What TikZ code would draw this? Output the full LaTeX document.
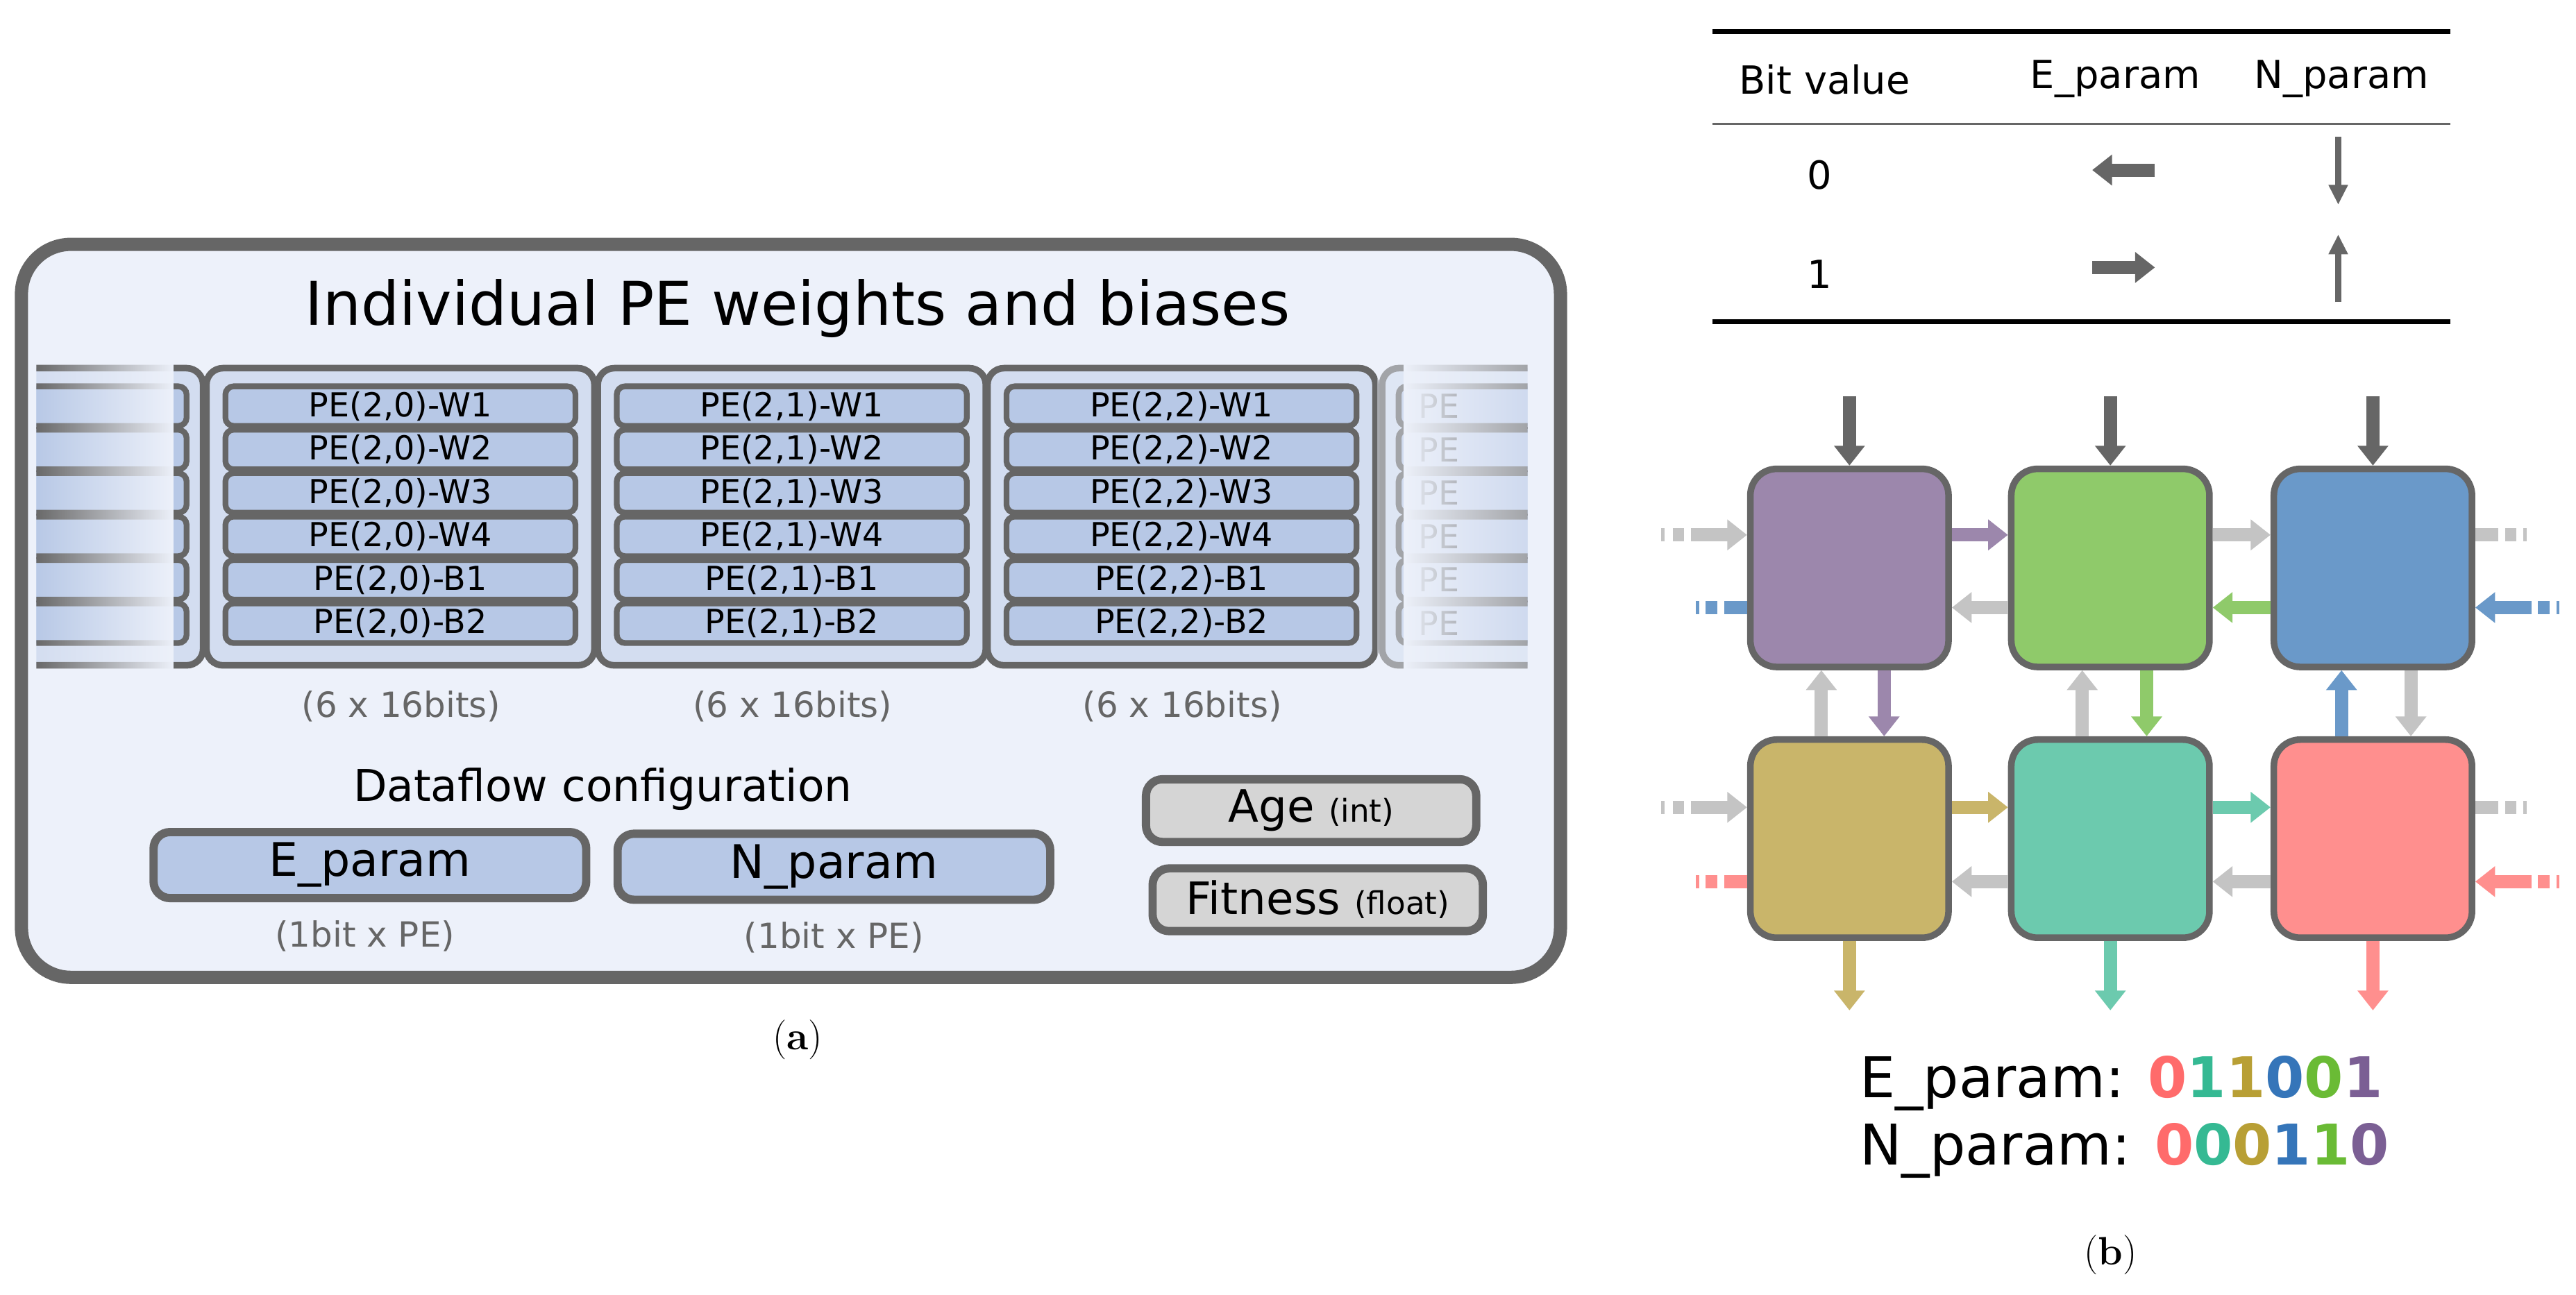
\documentclass[tikz,border=0pt]{standalone}
\usepackage{fontspec}
\newfontfamily\dv{DejaVu Sans}
\usetikzlibrary{arrows.meta,fadings,calc}
\newcommand\fsz[1]{\fontsize{#1}{#1}\selectfont}
\definecolor{dk}{HTML}{666666}
\definecolor{pbg}{HTML}{EDF1FA}
\definecolor{grp}{HTML}{D3DDF0}
\definecolor{rowc}{HTML}{B7C8E6}
\definecolor{lg}{HTML}{D5D5D5}
\definecolor{ag}{HTML}{C4C4C4}
\definecolor{cpu}{HTML}{9C87AC}
\definecolor{cgr}{HTML}{8FCA6A}
\definecolor{cbl}{HTML}{6A99C9}
\definecolor{col}{HTML}{C9B56A}
\definecolor{cte}{HTML}{6CCAAE}
\definecolor{cre}{HTML}{FF8F8E}
\definecolor{dre}{HTML}{FF6B6B}
\definecolor{dte}{HTML}{35B993}
\definecolor{dol}{HTML}{B89F35}
\definecolor{dbl}{HTML}{3575B9}
\definecolor{dgr}{HTML}{6ABB35}
\definecolor{dpu}{HTML}{7B5F94}
\tikzset{
  grpbox/.style={draw=dk,line width=4pt,fill=grp,rounded corners=10pt},
  row/.style={draw=dk,line width=3.5pt,fill=rowc,rounded corners=5pt,minimum width=212pt,minimum height=24pt,inner sep=0pt,font=\dv\fsz{20}},
  param/.style={draw=dk,line width=5pt,fill=rowc,rounded corners=10pt,minimum width=262pt,minimum height=40pt,inner sep=0pt,font=\dv\fsz{28}},
  gbox/.style={draw=dk,line width=5pt,fill=lg,rounded corners=10pt,minimum width=200pt,minimum height=38pt,inner sep=0pt,font=\dv\fsz{27}},
  note/.style={text=dk,font=\dv\fsz{21}},
  pe/.style={draw=dk,line width=4pt,rounded corners=16pt,minimum width=120pt,minimum height=120pt,inner sep=0pt},
  ar/.style={line width=8pt,-{Triangle[width=18pt,length=12pt]}},
  st/.style={line width=8pt},
}
\begin{document}
\begin{tikzpicture}[x=1pt,y=-1pt]
\useasboundingbox[fill=white] (0,0) rectangle (1560,784);
% ---------- panel (a)
\draw[dk,line width=8pt,fill=pbg,rounded corners=30pt] (13,148) rectangle (945,592);
\node[font=\dv\fsz{36.5}] (title) at (483,187) {Individual PE weights and biases};
% partial left
\begin{scope}
\clip (22,215) rectangle (124,412);
\draw[grpbox] (-20,223) rectangle (123,403);
\foreach \i in {0,...,5}{
  \draw[draw=dk,line width=3.5pt,fill=rowc,rounded corners=5pt] (-20,{234+26.3*\i}) rectangle (113,{258+26.3*\i});
}
\fill[pbg,path fading=west] (20,212) rectangle (105,414);
\end{scope}
% full columns
\foreach \c/\L in {0/125,1/362,2/598}{
  \draw[grpbox] (\L,223) rectangle (\L+235,403);
  \foreach \i/\lab in {0/W1,1/W2,2/W3,3/W4,4/B1,5/B2}{
    \node[row] (r\c\i) at (\L+117.5,{246+26.3*\i}) {PE(2,\c)-\lab};
  }
  \node[note] (bits\c) at (\L+118,428) {(6 x 16bits)};
}
% partial right
\begin{scope}
\clip (834,212) rectangle (925,414);
\draw[grpbox] (837,223) rectangle (1000,403);
\foreach \i in {0,...,5}{
  \draw[draw=dk,line width=3.5pt,fill=rowc,rounded corners=5pt] (847,{234+26.3*\i}) rectangle (1000,{258+26.3*\i});
  \node[font=\dv\fsz{20},anchor=west,inner sep=0pt] at (859,{246+26.3*\i}) {PE};
}
\fill[pbg,opacity=0.45] (834,212) rectangle (925,414);
\fill[pbg,path fading=east] (850,212) rectangle (925,414);
\end{scope}
\node[font=\dv\fsz{26.5}] (dfc) at (365,478) {Dataflow configuration};
\node[param] (ep) at (224,524) {E\_param};
\node[param] (np) at (505,525) {N\_param};
\node[note] (b1) at (221,567) {(1bit x PE)};
\node[note] (b2) at (505,568) {(1bit x PE)};
\node[gbox] (age) at (794,491) {Age {\fsz{19}(int)}};
\node[gbox] (fit) at (798,545) {Fitness {\fsz{19}(float)}};
\node[font=\fsz{24}] (capa) at (483,630) {(\textbf{a})};
% ---------- panel (b) table
\draw[line width=3pt] (1037,19) -- (1484,19);
\draw[dk,line width=1.2pt] (1037,75) -- (1484,75);
\draw[line width=3pt] (1037,195) -- (1484,195);
\node[font=\dv\fsz{23.5}] (h1) at (1105,48) {Bit value};
\node[font=\dv\fsz{23.5}] (h2) at (1281,48) {E\_param};
\node[font=\dv\fsz{23.5}] (h3) at (1418,48) {N\_param};
\node[font=\dv\fsz{23.5}] (v0) at (1102,106) {0};
\node[font=\dv\fsz{23.5}] (v1) at (1102,166) {1};
\coordinate (e0a) at (1305,103); \coordinate (e0b) at (1267,103);
\coordinate (e1a) at (1267,162); \coordinate (e1b) at (1305,162);
\coordinate (n0a) at (1416,83); \coordinate (n0b) at (1416,124);
\coordinate (n1a) at (1416,183); \coordinate (n1b) at (1416,142);
\draw[dk,ar] (e0a) -- (e0b);
\draw[dk,ar] (e1a) -- (e1b);
\draw[dk,line width=4pt,-{Triangle[width=11pt,length=12pt]}] (n0a) -- (n0b);
\draw[dk,line width=4pt,-{Triangle[width=11pt,length=12pt]}] (n1a) -- (n1b);
% ---------- grid
\node[pe,fill=cpu] (a1) at (1120,344) {};
\node[pe,fill=cgr] (a2) at (1278,344) {};
\node[pe,fill=cbl] (a3) at (1437,344) {};
\node[pe,fill=col] (c1) at (1120,508) {};
\node[pe,fill=cte] (c2) at (1278,508) {};
\node[pe,fill=cre] (c3) at (1437,508) {};
% top inputs
\foreach \n in {a1,a2,a3}{
  \draw[dk,ar] ([yshift=42pt]\n.north) -- (\n.north);
}
% bottom outputs
\draw[col,ar] (c1.south) -- ([yshift=-42pt]c1.south);
\draw[cte,ar] (c2.south) -- ([yshift=-42pt]c2.south);
\draw[cre,ar] (c3.south) -- ([yshift=-42pt]c3.south);
% horizontal within rows
\draw[cpu,ar] ([yshift=20pt]a1.east) -- ([yshift=20pt]a2.west);
\draw[ag,ar] ([yshift=20pt]a2.east) -- ([yshift=20pt]a3.west);
\draw[ag,ar] ([yshift=-24pt]a2.west) -- ([yshift=-24pt]a1.east);
\draw[cgr,ar] ([yshift=-24pt]a3.west) -- ([yshift=-24pt]a2.east);
\draw[col,ar] ([yshift=19pt]c1.east) -- ([yshift=19pt]c2.west);
\draw[cte,ar] ([yshift=19pt]c2.east) -- ([yshift=19pt]c3.west);
\draw[ag,ar] ([yshift=-26pt]c2.west) -- ([yshift=-26pt]c1.east);
\draw[ag,ar] ([yshift=-26pt]c3.west) -- ([yshift=-26pt]c2.east);
% vertical between rows
\draw[ag,ar] ([xshift=-17pt]c1.north) -- ([xshift=-17pt]a1.south);
\draw[cpu,ar] ([xshift=21pt]a1.south) -- ([xshift=21pt]c1.north);
\draw[ag,ar] ([xshift=-17pt]c2.north) -- ([xshift=-17pt]a2.south);
\draw[cgr,ar] ([xshift=22pt]a2.south) -- ([xshift=22pt]c2.north);
\draw[cbl,ar] ([xshift=-19pt]c3.north) -- ([xshift=-19pt]a3.south);
\draw[ag,ar] ([xshift=23pt]a3.south) -- ([xshift=23pt]c3.north);
% left incoming gray (dashed tails)
\foreach \n/\dy in {a1/20,c1/19}{
  \draw[ag,ar] ([shift={(-34pt,\dy pt)}]\n.west) -- ([yshift=\dy pt]\n.west);
  \draw[ag,st] ([shift={(-45pt,\dy pt)}]\n.west) -- ([shift={(-38pt,\dy pt)}]\n.west);
  \draw[ag,st] ([shift={(-52pt,\dy pt)}]\n.west) -- ([shift={(-50pt,\dy pt)}]\n.west);
}
% right outgoing gray stubs
\foreach \n/\dy in {a3/20,c3/19}{
  \draw[ag,st] ([yshift=\dy pt]\n.east) -- ([shift={(14pt,\dy pt)}]\n.east);
  \draw[ag,st] ([shift={(18pt,\dy pt)}]\n.east) -- ([shift={(25pt,\dy pt)}]\n.east);
  \draw[ag,st] ([shift={(29pt,\dy pt)}]\n.east) -- ([shift={(31pt,\dy pt)}]\n.east);
}
% left outgoing coloured stubs
\foreach \n/\dy/\cc in {a1/-24/cbl,c1/-26/cre}{
  \draw[\cc,st] ([yshift=\dy pt]\n.west) -- ([shift={(-14pt,\dy pt)}]\n.west);
  \draw[\cc,st] ([shift={(-18pt,\dy pt)}]\n.west) -- ([shift={(-25pt,\dy pt)}]\n.west);
  \draw[\cc,st] ([shift={(-29pt,\dy pt)}]\n.west) -- ([shift={(-31pt,\dy pt)}]\n.west);
}
% right incoming coloured
\foreach \n/\dy/\cc in {a3/-24/cbl,c3/-26/cre}{
  \draw[\cc,ar] ([shift={(34pt,\dy pt)}]\n.east) -- ([yshift=\dy pt]\n.east);
  \draw[\cc,st] ([shift={(38pt,\dy pt)}]\n.east) -- ([shift={(45pt,\dy pt)}]\n.east);
  \draw[\cc,st] ([shift={(49pt,\dy pt)}]\n.east) -- ([shift={(51pt,\dy pt)}]\n.east);
}
% param strings
\node[font=\dv\fsz{34},anchor=west,inner sep=0pt] (es) at (1126,656) {E\_param: {\bfseries\color{dre}0\color{dte}1\color{dol}1\color{dbl}0\color{dgr}0\color{dpu}1}};
\node[font=\dv\fsz{34},anchor=west,inner sep=0pt] (ns) at (1126,697) {N\_param: {\bfseries\color{dre}0\color{dte}0\color{dol}0\color{dbl}1\color{dgr}1\color{dpu}0}};
\node[font=\fsz{24}] (capb) at (1278,760) {(\textbf{b})};
\end{tikzpicture}
\end{document}
